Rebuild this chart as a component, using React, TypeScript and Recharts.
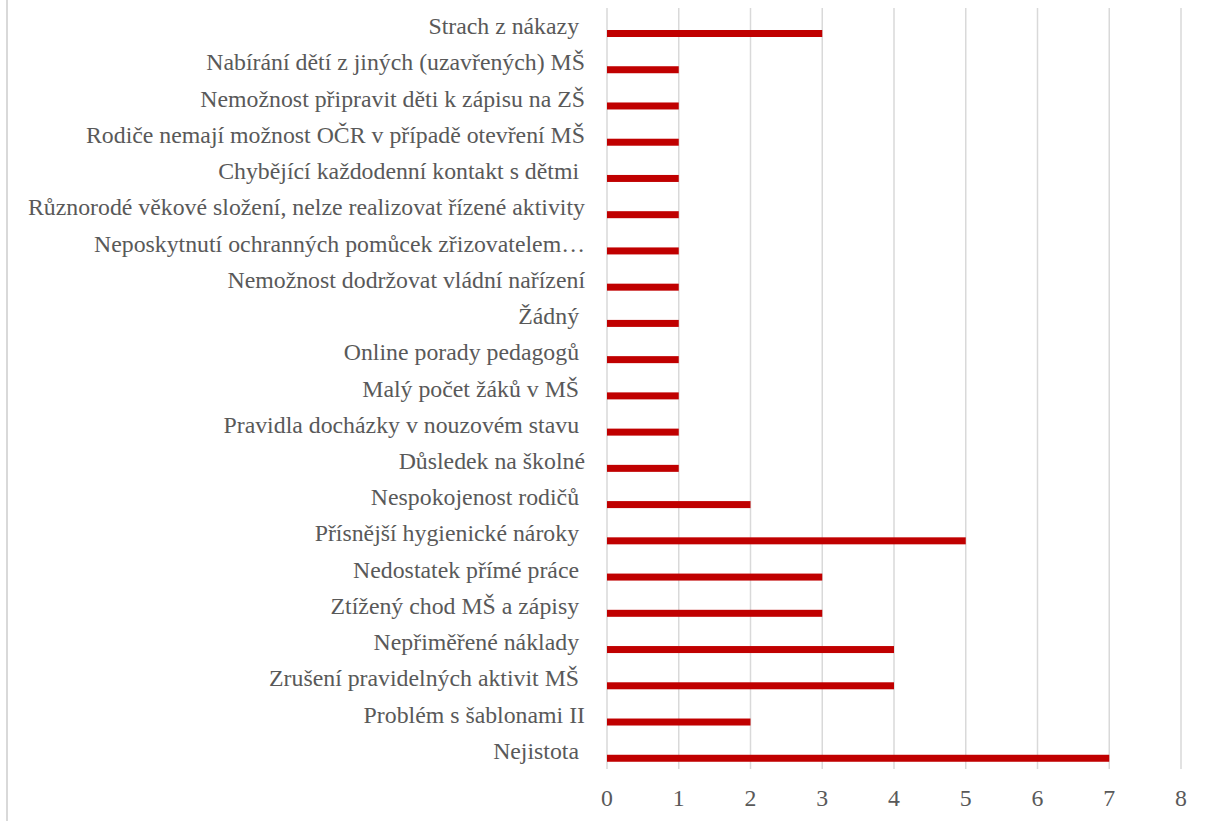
import React from 'react';
import { BarChart, Bar, XAxis, YAxis, CartesianGrid } from 'recharts';

const categories = [
    'Strach z nákazy ',
    'Nabírání dětí z jiných (uzavřených) MŠ',
    'Nemožnost připravit děti k zápisu na ZŠ',
    'Rodiče nemají možnost OČR v případě otevření MŠ',
    'Chybějící každodenní kontakt s dětmi ',
    'Různorodé věkové složení, nelze realizovat řízené aktivity',
    'Neposkytnutí ochranných pomůcek zřizovatelem…',
    'Nemožnost dodržovat vládní nařízení',
    'Žádný ',
    'Online porady pedagogů ',
    'Malý počet žáků v MŠ ',
    'Pravidla docházky v nouzovém stavu ',
    'Důsledek na školné',
    'Nespokojenost rodičů ',
    'Přísnější hygienické nároky ',
    'Nedostatek přímé práce ',
    'Ztížený chod MŠ a zápisy ',
    'Nepřiměřené náklady ',
    'Zrušení pravidelných aktivit MŠ ',
    'Problém s šablonami II',
    'Nejistota ',
];

const counts = [3, 1, 1, 1, 1, 1, 1, 1, 1, 1, 1, 1, 1, 2, 5, 3, 3, 4, 4, 2, 7];

const xTicks = [0, 1, 2, 3, 4, 5, 6, 7, 8];

const data = categories.map((name, i) => ({ name, value: counts[i] }));

const FONT = '"Liberation Serif", "Times New Roman", serif';
const TEXT = '#595959';

const CategoryTick = (props: any) => {
    const { x, y, payload } = props;
    return (
        <text
            x={x}
            y={y}
            textAnchor="end"
            dominantBaseline="central"
            fill={TEXT}
            fontFamily={FONT}
            fontSize={23.8}
            style={{ whiteSpace: 'pre' }}
        >
            {payload.value}
        </text>
    );
};

const ValueTick = (props: any) => {
    const { x, y, payload } = props;
    return (
        <text x={x} y={y} textAnchor="middle" dominantBaseline="central" fill={TEXT} fontFamily={FONT} fontSize={23.8}>
            {payload.value}
        </text>
    );
};

// Excel leaves room for a second (empty) series, so the bar sits below the category centre
const OffsetBar = (props: any) => {
    const { x, y, width, height } = props;
    if (!width) return null;
    return <rect x={x} y={y + 7} width={width} height={height} fill="#C00000" />;
};

export default function App() {
    return (
        <div style={{ position: 'relative', width: 1212, height: 821, background: '#fff' }}>
            <style>{`body { margin: 0; }`}</style>
            <div style={{ position: 'absolute', left: 6, top: 0, width: 2, height: 821, background: '#d9d9d9' }} />
            <BarChart
                width={1212}
                height={821}
                data={data}
                layout="vertical"
                margin={{ top: 8, right: 31, left: 0, bottom: 0 }}
                barCategoryGap={0}
            >
                <CartesianGrid horizontal={false} stroke="#d9d9d9" strokeWidth={1.5} />
                <XAxis
                    type="number"
                    domain={[0, 8]}
                    ticks={xTicks}
                    interval={0}
                    axisLine={false}
                    tickLine={false}
                    tickSize={0}
                    tickMargin={29}
                    height={52}
                    tick={<ValueTick />}
                />
                <YAxis
                    type="category"
                    dataKey="name"
                    width={607}
                    interval={0}
                    axisLine={false}
                    tickLine={false}
                    tickSize={0}
                    tickMargin={22}
                    tick={<CategoryTick />}
                />
                <Bar dataKey="value" barSize={7} fill="#C00000" shape={<OffsetBar />} isAnimationActive={false} />
            </BarChart>
        </div>
    );
}
